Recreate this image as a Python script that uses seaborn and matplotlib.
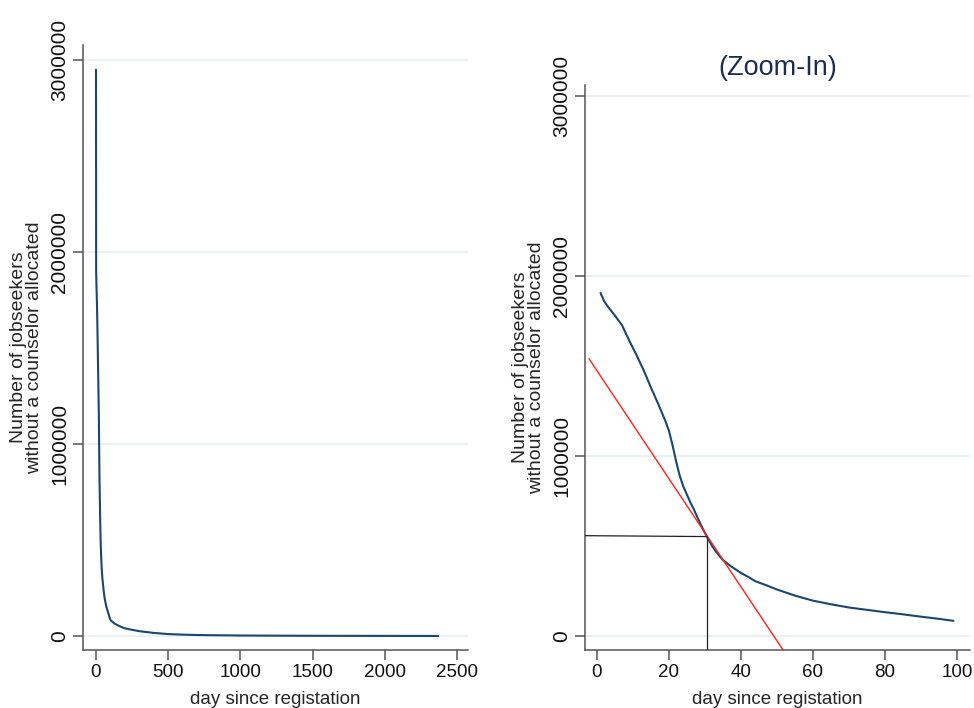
import numpy as np
import pandas as pd
import matplotlib
matplotlib.use("Agg")
import matplotlib.pyplot as plt
import seaborn as sns

# Full curve (left panel): day since registration vs jobseekers without counselor
days_full = [0, 1, 3, 5, 7, 10, 13, 15, 18, 20, 22, 24, 26, 28, 30, 33, 37, 40, 44, 50,
             55, 60, 70, 80, 90, 99, 110, 130, 150, 175, 200, 250, 300, 400, 500, 600,
             700, 800, 1000, 1200, 1500, 1800, 2000, 2200, 2370]
count_full = [2950000, 1905000, 1830000, 1780000, 1720000, 1600000, 1460000, 1370000,
              1230000, 1140000, 970000, 830000, 740000, 650000, 570000, 470000, 390000,
              348000, 302000, 258000, 224000, 196000, 158000, 132000, 107000, 85000,
              76000, 64000, 56000, 47000, 40000, 32000, 25000, 16000, 10000, 7000,
              5000, 4000, 2500, 1800, 1000, 700, 500, 300, 100]

# Zoom-in panel (days 1..99)
days_zoom = [1, 2, 3, 5, 7, 9, 11, 13, 15, 17, 19, 20, 21, 22, 23, 24, 25, 26, 27, 28,
             29, 30, 31, 32, 33, 34, 35, 37, 40, 42, 44, 47, 50, 55, 60, 65, 70, 75,
             80, 85, 90, 95, 99]
count_zoom = [1905000, 1860000, 1830000, 1780000, 1725000, 1640000, 1560000, 1475000,
              1380000, 1290000, 1195000, 1140000, 1060000, 970000, 890000, 830000,
              785000, 740000, 700000, 655000, 612000, 572000, 535000, 500000, 470000,
              445000, 422000, 390000, 350000, 328000, 304000, 282000, 258000, 224000,
              196000, 176000, 158000, 145000, 132000, 120000, 107000, 95000, 84000]

# Tangent line (red) and reference point (black)
tangent_days = [-2.2, 51.7]
tangent_vals = [1540000, -78000]
ref_day = 30.5
ref_val = 552000

yticks = [0, 1000000, 2000000, 3000000]
xticks_full = [0, 500, 1000, 1500, 2000, 2500]
xticks_zoom = [0, 20, 40, 60, 80, 100]

sns.set_style("white")
plt.rcParams['font.family'] = ['Liberation Sans', 'DejaVu Sans']

navy = '#1A476F'
gridc = '#E6EFF1'
spinec = '#555555'

fig = plt.figure(figsize=(9.74, 7.08), dpi=100)
ax1 = fig.add_axes([83/974, 58/708, (468-83)/974, (650-45)/708])
ax2 = fig.add_axes([585/974, 58/708, (970-585)/974, (650-85)/708])

df_full = pd.DataFrame({'day': days_full, 'n': count_full})
df_zoom = pd.DataFrame({'day': days_zoom, 'n': count_zoom})

sns.lineplot(data=df_full, x='day', y='n', ax=ax1, color=navy, lw=1.5)
sns.lineplot(data=df_zoom, x='day', y='n', ax=ax2, color=navy, lw=1.5)

ax1.set_xlim(-90, 2576)
ax1.set_ylim(-73000, 3078000)
ax2.set_xlim(-3.3, 103.6)
ax2.set_ylim(-78000, 3060000)

ax2.plot(tangent_days, tangent_vals, color='#FF2020', lw=1.0, zorder=3)
ax2.plot([-3.3, ref_day], [ref_val + 5000, ref_val], color='#222222', lw=0.9, zorder=3)
ax2.plot([ref_day, ref_day], [-78000, ref_val], color='#222222', lw=0.9, zorder=3)

for ax, xt in ((ax1, xticks_full), (ax2, xticks_zoom)):
    ax.set_yticks(yticks)
    ax.set_yticklabels([str(v) for v in yticks], rotation=90, va='center', fontsize=15)
    ax.set_xticks(xt)
    ax.set_xticklabels([str(v) for v in xt], fontsize=13.5)
    for v in yticks:
        ax.axhline(v, color=gridc, lw=1.2, zorder=0)
    ax.grid(False)
    for s in ('top', 'right'):
        ax.spines[s].set_visible(False)
    for s in ('left', 'bottom'):
        ax.spines[s].set_color(spinec)
        ax.spines[s].set_linewidth(1.1)
    ax.tick_params(axis='both', direction='out', length=7, width=1.1, color=spinec,
                   colors='#111111', left=True, bottom=True, pad=3)
    ax.set_xlabel('day since registation', fontsize=13.5, labelpad=7)
    ax.set_ylabel('Number of jobseekers\nwithout a counselor allocated', fontsize=14,
                  labelpad=5, linespacing=0.95)

ax2.set_title('(Zoom-In)', fontsize=19.5, color='#1C2D55', pad=7)

fig.savefig('out.png', dpi=100, facecolor='white')
